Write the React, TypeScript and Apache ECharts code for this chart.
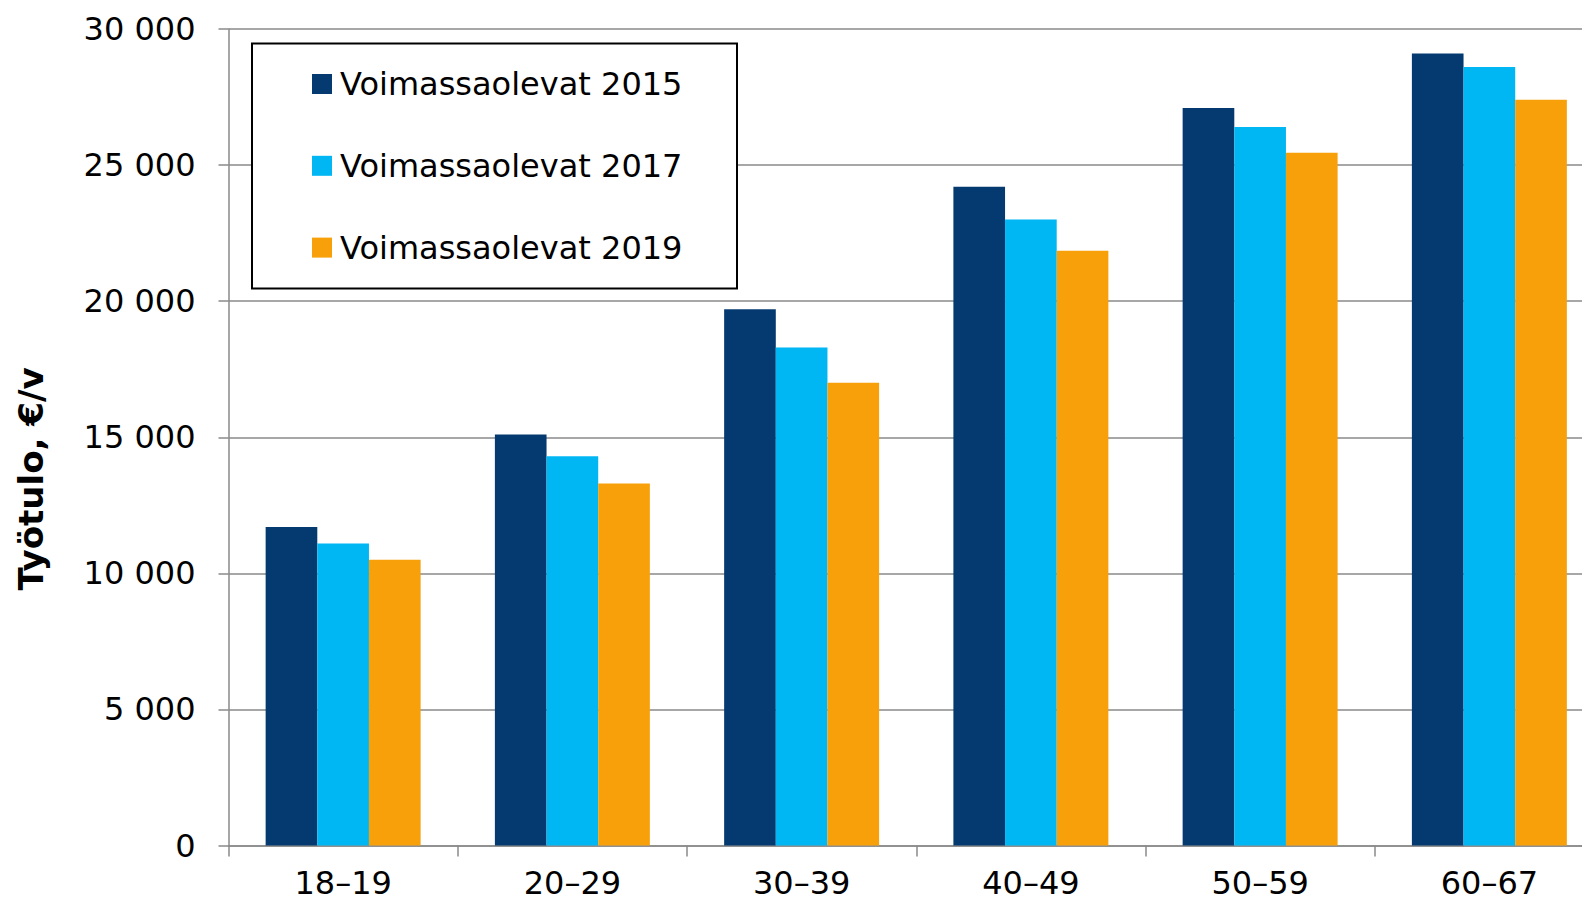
import React, { useEffect, useRef } from "react";
import * as echarts from "echarts";

const categories = ["18–19", "20–29", "30–39", "40–49", "50–59", "60–67"];
const seriesNames = ["Voimassaolevat 2015", "Voimassaolevat 2017", "Voimassaolevat 2019"];
const values2015 = [11700, 15100, 19700, 24200, 27100, 29100];
const values2017 = [11100, 14300, 18300, 23000, 26400, 28600];
const values2019 = [10500, 13300, 17000, 21850, 25450, 27400];
const yTicks = { min: 0, max: 30000, interval: 5000 };
const yTitle = "Työtulo, €/v";

const colors = ["#053a70", "#00b6f3", "#f7a00a"];
const FONT = "DejaVu Sans";

function fmt(v: number): string {
  if (v === 0) return "0";
  const s = String(v);
  return s.replace(/\B(?=(\d{3})+(?!\d))/g, " ");
}

export default function App() {
  const ref = useRef<HTMLDivElement>(null);
  useEffect(() => {
    if (!ref.current) return;
    const chart = echarts.init(ref.current, null, { renderer: "svg" });
    const data = [values2015, values2017, values2019];
    chart.setOption({
      animation: false,
      backgroundColor: "#ffffff",
      grid: { left: 228.5, top: 29, bottom: 57.5, right: 0, containLabel: false },
      xAxis: {
        type: "category",
        data: categories,
        boundaryGap: true,
        axisLine: { show: true, lineStyle: { color: "#8a8a8a", width: 1.5 } },
        axisTick: { show: true, length: 11, lineStyle: { color: "#8a8a8a", width: 1.5 } },
        axisLabel: { fontFamily: FONT, fontSize: 32, color: "#000", margin: 21, lineHeight: 32 },
      },
      yAxis: {
        type: "value",
        min: yTicks.min,
        max: yTicks.max,
        interval: yTicks.interval,
        axisLine: { show: true, lineStyle: { color: "#8a8a8a", width: 1.5 } },
        axisTick: { show: true, length: 10, lineStyle: { color: "#8a8a8a", width: 1.5 } },
        splitLine: { show: true, lineStyle: { color: "#8a8a8a", width: 1.5 } },
        axisLabel: {
          fontFamily: FONT,
          fontSize: 32,
          color: "#000",
          margin: 33,
          formatter: (v: number) => fmt(v),
        },
      },
      legend: {
        show: true,
        orient: "vertical",
        left: 312,
        top: 68,
        padding: 0,
        itemWidth: 20,
        itemHeight: 20,
        itemGap: 49.8,
        icon: "rect",
        z: 10,
        textStyle: {
          fontFamily: FONT,
          fontSize: 32,
          color: "#000",
          lineHeight: 30,
          padding: [0, 0, 0, 3],
        },
        data: seriesNames,
      },
      graphic: [
        {
          type: "rect",
          z: 5,
          shape: { x: 252, y: 43.5, width: 485, height: 245 },
          style: { fill: "#ffffff", stroke: "#000000", lineWidth: 2 },
        },
        {
          type: "text",
          z: 5,
          x: 31,
          y: 479,
          rotation: Math.PI / 2,
          style: {
            text: yTitle,
            fontFamily: FONT,
            fontWeight: "bold",
            fontSize: 34,
            fill: "#000",
            align: "center",
            verticalAlign: "middle",
          },
        },
      ],
      series: seriesNames.map((name, i) => ({
        name,
        type: "bar",
        data: data[i],
        barGap: "0%",
        barCategoryGap: "32.4%",
        itemStyle: { color: colors[i] },
      })),
    });
    return () => chart.dispose();
  }, []);
  return (
    <div
      style={{
        position: "fixed",
        left: 0,
        top: 0,
        width: 1582,
        height: 903,
        overflow: "hidden",
        background: "#fff",
      }}
    >
      <div ref={ref} style={{ width: 1604, height: 903 }} />
    </div>
  );
}
